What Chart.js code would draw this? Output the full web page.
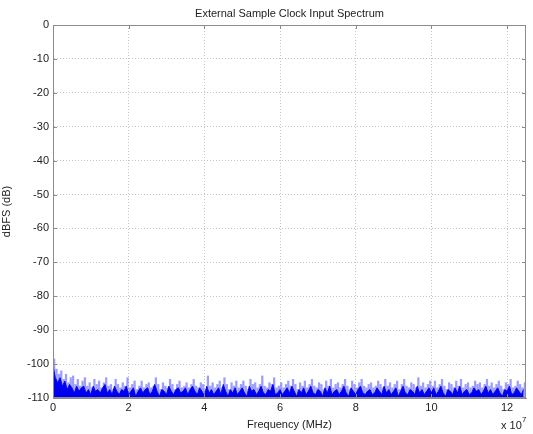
<!DOCTYPE html>
<html>
<head>
<meta charset="utf-8">
<script src="https://cdn.jsdelivr.net/npm/chart.js@4/dist/chart.umd.min.js"></script>
<style>
  body { margin: 0; background: #fff; }
  .chart-wrap { width: 533px; height: 434px; }
</style>
</head>
<body>
<div class="chart-wrap"><canvas id="myChart"></canvas></div>
<script>
// spectrum, one value every 0.625 MHz
const freqStepHz = 0.625e6;

// light upper spikes (dB)
const peakDb = [
  -98.5,-101.5,-103,-102,-104.5,-103,-105.5,-104,-103.5,-106,-104.5,-106.5,-105,-104,-106.5,-105.5,-107,-104.5,-106,-105,
  -107,-105.5,-104,-106.5,-106,-107.5,-104.5,-106,-107,-105.5,-106.5,-104,-107,-106,-105,-107.5,-106.5,-105,-107,-106,
  -105.5,-107,-106.5,-104,-106,-107.5,-105.5,-106.5,-107,-104.5,-106,-107.5,-106,-105,-107,-106.5,-105.5,-107,-106,-104.5,
  -106.5,-107,-105.5,-106,-107.5,-103.5,-106.5,-105.5,-107,-106,-105,-107,-104,-106,-107.5,-105.5,-106.5,-105,-107,-106,
  -105,-106.5,-107.5,-104.5,-106,-105.5,-107,-106,-103.5,-106.5,-107,-105.5,-106,-104,-107,-106.5,-105.5,-107,-106,-105,
  -106.5,-104.5,-106,-107.5,-105.5,-106.5,-105,-107,-106,-104.5,-106.5,-107,-105.5,-106,-107.5,-105,-106.5,-104.5,-107,-106,
  -105.5,-107,-106,-104.5,-106.5,-107.5,-105,-106,-107,-105.5,-104.5,-106.5,-107,-106,-105.5,-107,-106.5,-105,-106,-107,
  -104.5,-106.5,-105.5,-107,-106,-105,-107.5,-106,-104.5,-106.5,-107,-105.5,-106,-107,-104,-106.5,-105.5,-107,-106,-105,
  -106.5,-105,-107,-106,-104.5,-106.5,-107.5,-105.5,-106,-107,-105,-106.5,-104.5,-107,-106,-105.5,-107,-106.5,-105,-106,
  -105.5,-107,-106,-104.5,-106.5,-105.5,-107,-106,-105,-106.5,-107.5,-105.5,-106,-104.5,-107,-106.5,-105,-106,-107,-105.5
];

// dark lower body (dB)
const floorDb = [
  -100.5,-104,-105.5,-104,-106.5,-105,-107.5,-106,-107,-108.5,-106.5,-108,-107,-106.5,-108.5,-107.5,-109,-106.5,-108,-107.5,
  -108.5,-107,-106,-108.5,-107.5,-109,-106.5,-108,-109,-107.5,-108,-106.5,-109,-108,-107,-109.5,-108,-107,-108.5,-107.5,
  -107,-109,-108,-106,-108,-109.5,-107.5,-108,-109,-106.5,-108,-109,-107.5,-107,-108.5,-108,-107,-109,-107.5,-106.5,
  -108,-109,-107,-108,-109.5,-106.5,-108.5,-107.5,-109,-108,-107,-109,-106,-108,-109.5,-107.5,-108.5,-107,-109,-108,
  -107,-108.5,-109.5,-106.5,-108,-107.5,-109,-108,-106.5,-108.5,-109,-107.5,-108,-106,-109,-108.5,-107.5,-109,-108,-107,
  -108.5,-106.5,-108,-109.5,-107.5,-108.5,-107,-109,-108,-106.5,-108.5,-109,-107.5,-108,-109.5,-107,-108.5,-106.5,-109,-108,
  -107.5,-109,-108,-106.5,-108.5,-109.5,-107,-108,-109,-107.5,-106.5,-108.5,-109,-108,-107.5,-109,-108.5,-107,-108,-109,
  -106.5,-108.5,-107.5,-109,-108,-107,-109.5,-108,-106.5,-108.5,-109,-107.5,-108,-109,-106.5,-108.5,-107.5,-109,-108,-107,
  -108.5,-107,-109,-108,-106.5,-108.5,-109.5,-107.5,-108,-109,-107,-108.5,-106.5,-109,-108,-107.5,-109,-108.5,-107,-108,
  -107.5,-109,-108,-106.5,-108.5,-107.5,-109,-108,-107,-108.5,-109.5,-107.5,-108,-106.5,-109,-108.5,-107,-108,-109,-107.5
];

const yTicks = [0,-10,-20,-30,-40,-50,-60,-70,-80,-90,-100,-110];
const xTickMHz = [0,2,4,6,8,10,12]; // shown as x 10^7
const titleText = "External Sample Clock Input Spectrum";

const FONT = "'Liberation Sans', Arial, sans-serif";

function toPoints(arr, offset) {
  return arr.map((v, i) => ({ x: (i + offset) * freqStepHz, y: v }));
}

// frame on all sides, inward ticks, title and exponent label
const framePlugin = {
  id: 'frame',
  afterDraw(chart) {
    const ctx = chart.ctx;
    const a = chart.chartArea;
    const xs = chart.scales.x, ys = chart.scales.y;
    ctx.save();
    ctx.strokeStyle = '#8c8c8c';
    ctx.lineWidth = 1;
    ctx.strokeRect(a.left + 0.5, a.top + 0.5, a.right - a.left - 1, a.bottom - a.top - 1);
    ctx.beginPath();
    xTickMHz.forEach(t => {
      const px = Math.round(xs.getPixelForValue(t * 1e7)) + 0.5;
      ctx.moveTo(px, a.bottom); ctx.lineTo(px, a.bottom - 4);
      ctx.moveTo(px, a.top); ctx.lineTo(px, a.top + 4);
    });
    yTicks.forEach(t => {
      const py = Math.round(ys.getPixelForValue(t)) + 0.5;
      ctx.moveTo(a.left, py); ctx.lineTo(a.left + 4, py);
      ctx.moveTo(a.right, py); ctx.lineTo(a.right - 4, py);
    });
    ctx.stroke();

    ctx.fillStyle = '#222';
    ctx.font = '11px ' + FONT;
    ctx.textAlign = 'center';
    ctx.textBaseline = 'middle';
    ctx.fillText(titleText, (a.left + a.right) / 2, 14);

    ctx.textAlign = 'left';
    ctx.fillText('x 10', 501, 426);
    ctx.font = '8px ' + FONT;
    ctx.fillText('7', 522, 420);
    ctx.restore();
  }
};

const ctx = document.getElementById('myChart').getContext('2d');

new Chart(ctx, {
  data: {
    datasets: [{
      type: 'line',
      label: 'floor',
      data: toPoints(floorDb, 0),
      borderColor: 'rgba(0,0,235,0.9)',
      backgroundColor: 'rgb(0,0,240)',
      borderWidth: 1,
      pointRadius: 0,
      fill: 'start',
      order: 0
    }, {
      type: 'bar',
      label: 'peak',
      data: toPoints(peakDb, 0.5),
      base: -110,
      barThickness: 1.6,
      backgroundColor: 'rgba(60,60,255,0.5)',
      borderWidth: 0,
      order: 1
    }]
  },
  options: {
    responsive: true,
    maintainAspectRatio: false,
    animation: false,
    layout: { padding: { left: 0, top: 25, right: 7, bottom: 0 } },
    plugins: {
      legend: { display: false },
      tooltip: { enabled: false }
    },
    scales: {
      x: {
        type: 'linear',
        min: 0,
        max: 1.25e8,
        offset: false,
        afterFit(s) { s.height = 36; },
        afterBuildTicks(s) { s.ticks = xTickMHz.map(v => ({ value: v * 1e7 })); },
        ticks: {
          autoSkip: false,
          maxRotation: 0,
          padding: 3,
          color: '#222',
          font: { family: FONT, size: 11 },
          callback: v => Math.round(v / 1e7)
        },
        grid: { color: '#c4c4c4', drawTicks: false, lineWidth: 1, offset: false },
        border: { display: true, color: '#8c8c8c', dash: [1, 2] },
        title: {
          display: true,
          text: 'Frequency (MHz)',
          color: '#222',
          font: { family: FONT, size: 11 },
          padding: { top: 0, bottom: 2 }
        }
      },
      y: {
        min: -110,
        max: 0,
        afterFit(s) { s.width = 53; },
        afterBuildTicks(s) { s.ticks = yTicks.map(v => ({ value: v })); },
        ticks: {
          autoSkip: false,
          padding: 4,
          color: '#222',
          font: { family: FONT, size: 11 }
        },
        grid: { color: '#c4c4c4', drawTicks: false, lineWidth: 1 },
        border: { display: true, color: '#8c8c8c', dash: [1, 2] },
        title: {
          display: true,
          text: 'dBFS (dB)',
          color: '#222',
          font: { family: FONT, size: 11 },
          padding: { top: 0, bottom: 4 }
        }
      }
    }
  },
  plugins: [framePlugin]
});
</script>
</body>
</html>
